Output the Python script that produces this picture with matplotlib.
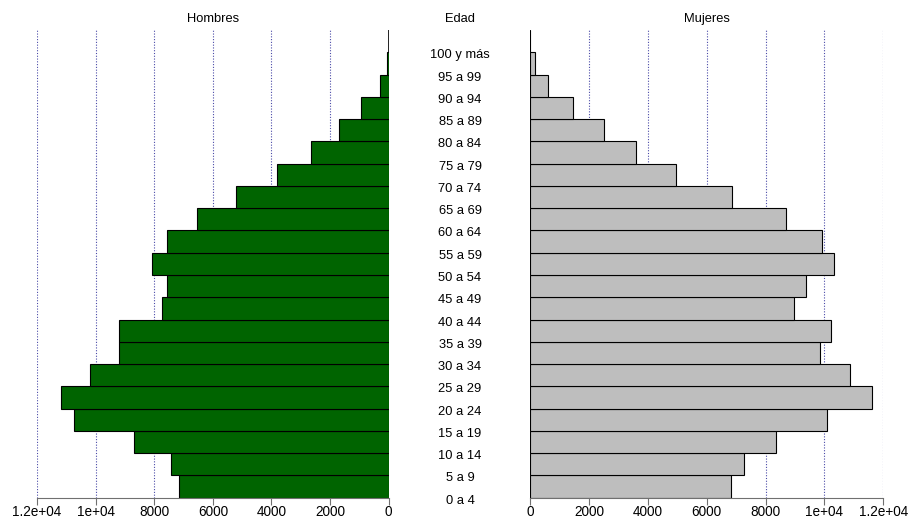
import matplotlib
matplotlib.use("Agg")
import matplotlib.pyplot as plt
import numpy as np

plt.rcParams['font.family'] = ['Liberation Sans', 'DejaVu Sans']

edades = ["0 a 4", "5 a 9", "10 a 14", "15 a 19", "20 a 24", "25 a 29", "30 a 34",
          "35 a 39", "40 a 44", "45 a 49", "50 a 54", "55 a 59", "60 a 64", "65 a 69",
          "70 a 74", "75 a 79", "80 a 84", "85 a 89", "90 a 94", "95 a 99", "100 y más"]
hombres = [7145, 7430, 8690, 10750, 11170, 10180, 9190, 9190, 7745, 7575, 8065,
           7575, 6540, 5210, 3800, 2650, 1695, 945, 297, 70, 0]
mujeres = [6810, 7275, 8340, 10095, 11615, 10865, 9835, 10230, 8975, 9380, 10325,
           9925, 8680, 6845, 4965, 3605, 2515, 1450, 612, 170, 0]
ticks = [0, 2000, 4000, 6000, 8000, 10000, 12000]
tick_labels = ["0", "2000", "4000", "6000", "8000", "1e+04", "1.2e+04"]

W, H = 908, 518
fig = plt.figure(figsize=(W / 100, H / 100), dpi=100)

y_bot, y_top = 497.7, 30.0
n = len(edades)
b = (H - y_bot) / H
h = (y_bot - y_top) / H

axL = fig.add_axes([37 / W, b, (388.7 - 37) / W, h])
axR = fig.add_axes([530.3 / W, b, 353 / W, h])

ys = np.arange(n)
grid_col = '#4a4aa8'
for ax, vals, col in ((axL, hombres, '#006400'), (axR, mujeres, '#bebebe')):
    for t in ticks[1:]:
        ax.axvline(t, color=grid_col, lw=0.8, ls=(0, (1, 1.5)), zorder=0)
    ax.barh(ys, vals, height=1.0, align='edge', color=col, edgecolor='black',
            linewidth=0.8, zorder=2)
    ax.plot([0, 0], [n - 1, n], color='black', lw=1.2, zorder=3)
    ax.set_ylim(0, n)
    ax.set_yticks([])
    for s in ('top', 'left', 'right'):
        ax.spines[s].set_visible(False)
    ax.spines['bottom'].set_color('#707070')
    ax.spines['bottom'].set_bounds(0, 12000)
    ax.set_xticks(ticks)
    ax.set_xticklabels([])
    ax.tick_params(axis='x', length=5, color='#707070')
    ax.patch.set_visible(False)
    # tick labels placed with their baseline near the figure bottom
    for t, lab in zip(ticks, tick_labels):
        ax.text(t, 0, lab, transform=ax.get_xaxis_transform(), ha='center',
                va='baseline', fontsize=9.8)

axL.set_xlim(12000, 0)
axR.set_xlim(0, 12000)

# move tick label texts to baseline y = 516 px
for ax in (axL, axR):
    for txt in ax.texts:
        x = txt.get_position()[0]
        txt.set_transform(matplotlib.transforms.blended_transform_factory(
            ax.transData, fig.transFigure))
        txt.set_position((x, (H - 515.5) / H))
        txt.set_clip_on(False)

# Age labels at bar bottoms
for i, lab in enumerate(edades):
    ypx = y_bot - i * (y_bot - y_top) / n + 3
    fig.text(460 / W, (H - ypx) / H, lab, ha='center', va='center', fontsize=9.3)

fig.text(213 / W, 1 - 19 / H, "Hombres", ha='center', va='center', fontsize=9.3)
fig.text(460 / W, 1 - 19 / H, "Edad", ha='center', va='center', fontsize=9.3)
fig.text(707 / W, 1 - 19 / H, "Mujeres", ha='center', va='center', fontsize=9.3)

fig.savefig("out.png", dpi=100)
